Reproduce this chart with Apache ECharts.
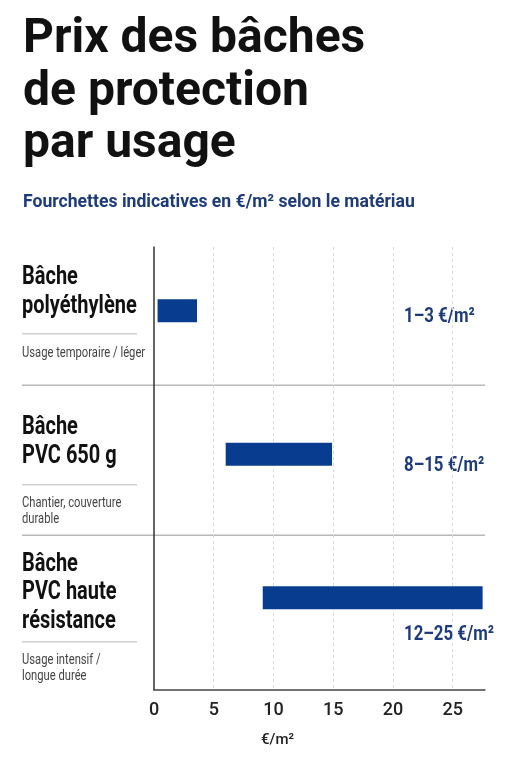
<!DOCTYPE html>
<html>
<head>
<meta charset="utf-8">
<script src="https://cdn.jsdelivr.net/npm/echarts@6/dist/echarts.min.js"></script>
<style>
  html, body { margin: 0; padding: 0; background: #fff; }
  #chart { width: 511px; height: 768px; }
</style>
</head>
<body>
<div id="chart"></div>
<script>
// données
var categories = ['Bâche polyéthylène', 'Bâche PVC 650 g', 'Bâche PVC haute résistance']
var nameLines = [['Bâche', 'polyéthylène'], ['Bâche', 'PVC 650 g'], ['Bâche', 'PVC haute', 'résistance']]
var usageLines = [['Usage temporaire / léger'], ['Chantier, couverture', 'durable'], ['Usage intensif /', 'longue durée']]
var priceLow = [0.3, 6.0, 9.1]
var priceHigh = [3.6, 14.9, 27.5]
var rangeLabels = ['1–3 €/m²', '8–15 €/m²', '12–25 €/m²']
var xTicks = [0, 5, 10, 15, 20, 25]

var NAVY = '#1d3b7a'
var BAR = '#083c8e'
var FONT = 'Roboto, "Noto Sans", sans-serif'
var SQUEEZE = 0.8 // pas de police étroite installée -> on compresse Roboto

var myChart = echarts.init(document.getElementById('chart'))

// mise en page du panneau de gauche (px)
var nameTop = [264, 414, 550.7]
var usageTop = [345.5, 496, 653.2]
var ruleY = [333.7, 484.7, 641.7]
var sepY = [385.3, 535.3]
var labelY = [316.5, 465.5, 634.5]

function narrowText(x, y, text, font, fill, lh) {
  return {
    type: 'text', x: x, y: y, scaleX: SQUEEZE, silent: true,
    style: { text: text, font: font, fill: fill, lineHeight: lh, align: 'left', verticalAlign: 'top' }
  }
}

var graphic = []
categories.forEach(function(c, i) {
  graphic.push(narrowText(22, nameTop[i], nameLines[i].join('\n'), 'bold 25px ' + FONT, '#111', 28.3))
  graphic.push({
    type: 'line', silent: true,
    shape: { x1: 22, y1: ruleY[i], x2: 137, y2: ruleY[i] },
    style: { stroke: '#cfcfcf', lineWidth: 1.5 }
  })
  graphic.push(narrowText(22, usageTop[i], usageLines[i].join('\n'), '14px ' + FONT, '#444', 15.5))
  graphic.push(narrowText(404, labelY[i] - 12, rangeLabels[i], 'bold 21px ' + FONT, NAVY, 24))
})
sepY.forEach(function(y) {
  graphic.push({
    type: 'line', silent: true,
    shape: { x1: 22, y1: y, x2: 485, y2: y },
    style: { stroke: '#b8b8b8', lineWidth: 1.5 }
  })
})

var option = {
  backgroundColor: '#fff',
  animation: false,
  title: [
    {
      text: 'Prix des bâches\nde protection\npar usage',
      left: 23,
      top: 14,
      padding: 0,
      textStyle: { fontFamily: FONT, fontWeight: 700, fontSize: 48, lineHeight: 52.5, color: '#111' }
    },
    {
      text: 'Fourchettes indicatives en €/m² selon le matériau',
      left: 23,
      top: 192.8,
      padding: 0,
      textStyle: { fontFamily: FONT, fontWeight: 700, fontSize: 17.6, lineHeight: 20, color: NAVY }
    }
  ],
  grid: [
    { left: 154, right: 26, top: 247, bottom: 78 },
    { left: 154, right: 26, top: 239, bottom: 98.5 }
  ],
  xAxis: [
    {
      gridIndex: 0,
      type: 'value',
      min: 0,
      max: 27.7,
      interval: 5,
      axisLine: { show: true, lineStyle: { color: '#444', width: 1.5 } },
      axisTick: { show: false },
      axisLabel: {
        margin: 11.5,
        fontFamily: FONT,
        fontWeight: 500,
        fontSize: 18,
        color: '#222',
        formatter: function(value) {
          return xTicks.indexOf(value) >= 0 ? String(value) : ''
        }
      },
      splitLine: {
        show: true,
        lineStyle: {
          type: [3, 3],
          width: 1,
          // pas de trait sur 0 ni sur le max
          color: ['rgba(0,0,0,0)', '#dadada', '#dadada', '#dadada', '#dadada', '#dadada', 'rgba(0,0,0,0)']
        }
      },
      name: '€/m²',
      nameLocation: 'middle',
      nameGap: 43,
      nameTextStyle: { fontFamily: FONT, fontWeight: 500, fontSize: 15, color: '#222', padding: [0, 84, 0, 0] }
    },
    {
      gridIndex: 1,
      type: 'value',
      min: 0,
      max: 27.7,
      show: false
    }
  ],
  yAxis: [
    {
      gridIndex: 0,
      type: 'category',
      data: categories,
      inverse: true,
      axisLine: { show: true, lineStyle: { color: '#333', width: 1.5 } },
      axisTick: { show: false },
      axisLabel: { show: false },
      splitLine: { show: false }
    },
    {
      gridIndex: 1,
      type: 'category',
      data: categories,
      inverse: true,
      show: false
    }
  ],
  series: [
    {
      type: 'bar',
      xAxisIndex: 1,
      yAxisIndex: 1,
      stack: 'range',
      silent: true,
      barWidth: 23,
      itemStyle: { color: 'rgba(0,0,0,0)' },
      data: priceLow
    },
    {
      type: 'bar',
      xAxisIndex: 1,
      yAxisIndex: 1,
      stack: 'range',
      silent: true,
      barWidth: 23,
      itemStyle: { color: BAR },
      data: priceHigh.map(function(h, i) { return +(h - priceLow[i]).toFixed(2) })
    }
  ],
  graphic: graphic
}

myChart.setOption(option)
</script>
</body>
</html>
